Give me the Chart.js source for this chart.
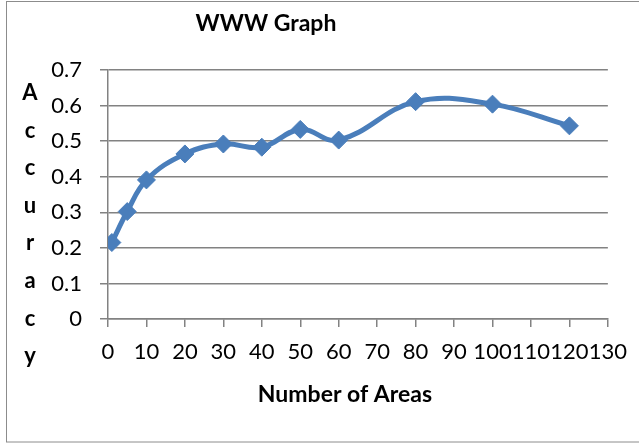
<!DOCTYPE html>
<html>
<head>
<meta charset="utf-8">
<script src="https://cdn.jsdelivr.net/npm/chart.js@4"></script>
<style>
  html, body { margin: 0; padding: 0; background: #fff; }
  #wrap { width: 639px; height: 444px; }
</style>
</head>
<body>
<div id="wrap"><canvas id="chart" width="639" height="444"></canvas></div>
<script>
// values
const areas = [1, 5, 10, 20, 30, 40, 50, 60, 80, 100, 120];
const accuracy = [0.215, 0.302, 0.391, 0.464, 0.492, 0.483, 0.533, 0.503, 0.611, 0.604, 0.543];
const xTickLabels = ["0", "10", "20", "30", "40", "50", "60", "70", "80", "90", "100", "110", "120", "130"];
const yTickLabels = ["0", "0.1", "0.2", "0.3", "0.4", "0.5", "0.6", "0.7"];
const chartTitle = "WWW Graph";
const xTitle = "Number of Areas";
const yTitle = "Accuracy";

const FONT = "Lato, 'Open Sans', sans-serif";
const BLUE = "#4a7ebb";
const GRID = "#828282";

// Excel-like frame, chart title, x title and stacked y title
const decorations = {
  id: "decorations",
  beforeDraw(chart) {
    const ctx = chart.ctx;
    ctx.save();
    ctx.strokeStyle = "#8c8c8c";
    ctx.lineWidth = 1;
    ctx.strokeRect(6.5, 1.5, 700, 440.5);
    ctx.restore();
  },
  afterDraw(chart) {
    const ctx = chart.ctx;
    ctx.save();
    ctx.fillStyle = "#000";
    ctx.textAlign = "center";
    ctx.textBaseline = "alphabetic";
    ctx.font = "bold 23px " + FONT;
    ctx.fillText(chartTitle, 266, 31);
    ctx.fillText(xTitle, 345, 402);
    ctx.font = "bold 22px " + FONT;
    yTitle.split("").forEach((ch, i) => {
      ctx.fillText(ch, 30, 100 + i * 37.6);
    });
    ctx.restore();
  },
};

new Chart(document.getElementById("chart"), {
  type: "line",
  data: {
    datasets: [{
      data: areas.map((x, i) => ({ x: x, y: accuracy[i] })),
      borderColor: BLUE,
      backgroundColor: BLUE,
      borderWidth: 5,
      tension: 0.4,
      pointStyle: "rectRot",
      pointRadius: 9,
      pointBorderWidth: 1,
      pointBackgroundColor: BLUE,
      pointBorderColor: BLUE,
      fill: false,
    }],
  },
  options: {
    responsive: false,
    animation: false,
    layout: { padding: { left: 0, right: 29, top: 70, bottom: 0 } },
    plugins: {
      legend: { display: false },
      tooltip: { enabled: false },
    },
    scales: {
      x: {
        type: "linear",
        min: 0,
        max: 130,
        afterFit: (scale) => { scale.height = 125; },
        ticks: {
          stepSize: 10,
          padding: 12,
          color: "#000",
          font: { family: FONT, size: 22 },
          maxRotation: 0,
          autoSkip: false,
          callback: (v, i) => xTickLabels[i],
        },
        grid: { drawOnChartArea: false, drawTicks: true, tickLength: 8, color: GRID, lineWidth: 1.5 },
        border: { color: GRID, width: 1.5 },
      },
      y: {
        min: 0,
        max: 0.7,
        afterFit: (scale) => { scale.width = 108; },
        ticks: {
          stepSize: 0.1,
          padding: 18,
          color: "#000",
          font: { family: FONT, size: 22 },
          callback: (v, i) => yTickLabels[i],
        },
        grid: { drawTicks: true, tickLength: 8, color: GRID, lineWidth: 1.5 },
        border: { color: GRID, width: 1.5 },
      },
    },
  },
  plugins: [decorations],
});
</script>
</body>
</html>
